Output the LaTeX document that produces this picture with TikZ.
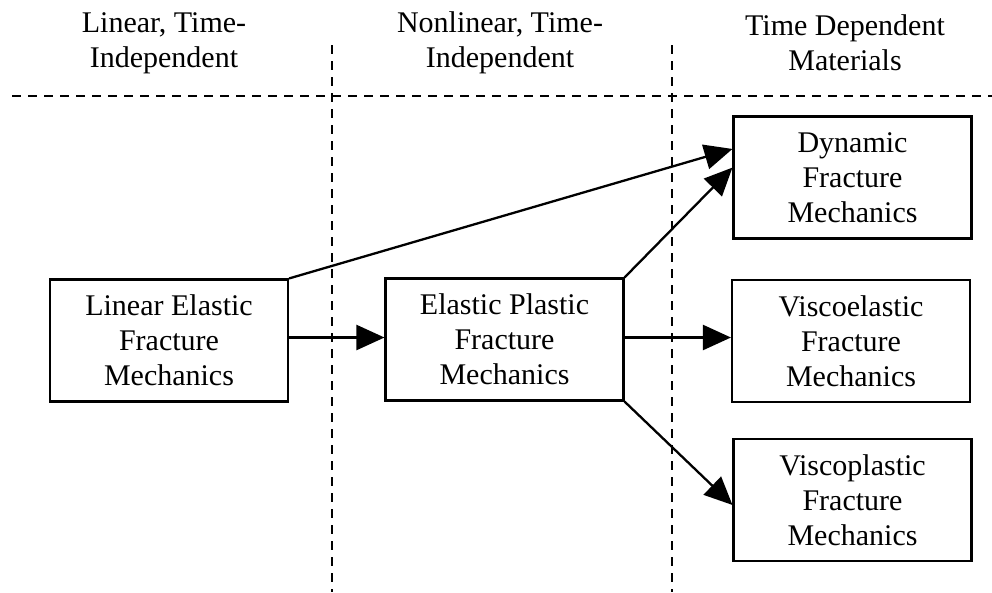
\documentclass[tikz,border=0pt]{standalone}
\usepackage{fontspec}
\setmainfont{Liberation Serif}
\usetikzlibrary{arrows.meta,calc}
\begin{document}
\begin{tikzpicture}[x=1pt,y=-1pt,
  box/.style={draw,line width=2.1pt,minimum width=238pt,minimum height=122pt,align=center,inner sep=0pt,font=\fontsize{30}{35}\selectfont},
  title/.style={align=center,inner sep=0pt,font=\fontsize{30}{35}\selectfont},
  sep/.style={line width=1.5pt,dash pattern=on 9pt off 7pt},
  arr/.style={line width=2.3pt,-{Triangle[length=28pt,width=25pt]}}]
\useasboundingbox (0,0) rectangle (992,592);
% column titles
\node[title] (t1) at (164,43) {Linear, Time-\\Independent};
\node[title] (t2) at (500,43) {Nonlinear, Time-\\Independent};
\node[title] (t3) at (845,43) {Time Dependent\\Materials};
% separators
\coordinate (hl) at (12,96);
\coordinate (hr) at (992,96);
\coordinate (v1t) at (332,45);
\coordinate (v1b) at (332,592);
\coordinate (v2t) at (672,45);
\coordinate (v2b) at (672,592);
\draw[sep] (hl) -- (hr);
\draw[sep] (v1t) -- (v1b);
\draw[sep] (v2t) -- (v2b);
% boxes
\node[box] (lin) at (169,340.5) {Linear Elastic\\Fracture\\Mechanics};
\node[box] (ep) at (504.5,339.5) {Elastic Plastic\\Fracture\\Mechanics};
\node[box] (dyn) at (852.5,177.5) {Dynamic\\Fracture\\Mechanics};
\node[box] (vel) at (851,341) {Viscoelastic\\Fracture\\Mechanics};
\node[box] (vpl) at (852.5,500) {Viscoplastic\\Fracture\\Mechanics};
% connectors
\draw[arr] (lin.north east) -- ($(dyn.north west)!0.27!(dyn.south west)$);
\draw[arr] ([yshift=3pt]lin.east) -- ([yshift=3pt]lin.east -| ep.west);
\draw[arr] (ep.north east) -- ($(dyn.north west)!0.42!(dyn.south west)$);
\draw[arr] ([yshift=2pt]ep.east) -- ([yshift=2pt]ep.east -| vel.west);
\draw[arr] (ep.south east) -- ($(vpl.north west)!0.54!(vpl.south west)$);
\end{tikzpicture}
\end{document}
